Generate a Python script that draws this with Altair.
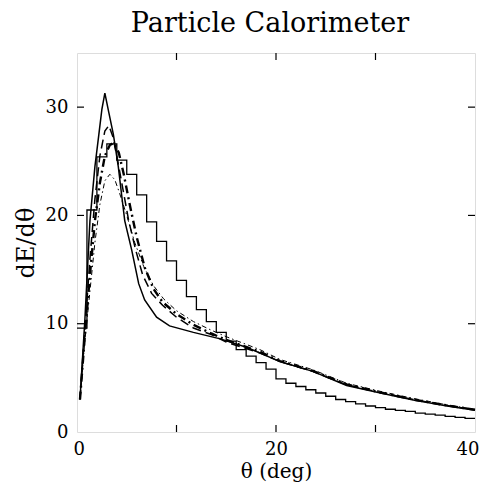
import altair as alt
import pandas as pd

# ---- data ----
hist_edges = list(range(0, 41))
hist_vals = [9.6, 20.5, 25.4, 26.6, 25.1, 23.8, 21.9, 19.4, 17.6, 15.8,
             14.0, 12.5, 11.3, 10.2, 9.2, 8.4, 7.6, 7.0, 6.4, 5.8,
             4.9, 4.5, 4.2, 3.9, 3.6, 3.3, 3.0, 2.8, 2.6, 2.4,
             2.25, 2.1, 2.0, 1.9, 1.75, 1.65, 1.55, 1.45, 1.35, 1.25]

solid_t = [0.3, 0.8, 1.3, 1.8, 2.2, 2.5, 2.8, 3.2, 3.65, 4.15, 4.55, 4.8, 5.5, 6.2, 6.8, 8.0, 9.3, 11.7,
           14.4, 17.1, 20.4, 23.7, 27.1, 30.5, 33.8, 37.2, 40.0]
solid_v = [3.0, 10.5, 19.5, 24.5, 27.5, 29.8, 31.3, 29.5, 27.5, 24.5, 21.4, 19.5, 16.8, 13.7, 12.2, 10.6, 9.8, 9.2,
           8.6, 7.8, 6.5, 5.6, 4.3, 3.6, 2.95, 2.4, 2.0]

dash_t = [0.3, 0.8, 1.3, 1.8, 2.3, 2.8, 3.2, 3.6, 4.1, 4.6, 5.2, 5.9, 6.6, 7.5, 8.6, 10.0, 11.7, 13.5, 15.0,
          18.4, 20.4, 23.7, 27.1, 30.5, 33.8, 37.2, 40.0]
dash_v = [3.0, 9.5, 16.0, 21.5, 25.5, 27.8, 28.3, 27.3, 25.0, 22.5, 19.5, 16.8, 14.5, 12.8, 11.7, 10.6, 9.6, 9.0, 8.3,
          7.3, 6.5, 5.6, 4.35, 3.65, 3.0, 2.45, 2.05]

heavy_t = [0.3, 0.8, 1.3, 1.8, 2.3, 2.8, 3.3, 3.7, 4.2, 4.7, 5.3, 6.0, 6.8, 7.7, 8.6, 10.0, 11.7, 13.5, 15.0,
           18.4, 20.4, 23.7, 27.1, 30.5, 33.8, 37.2, 40.0]
heavy_v = [3.0, 9.0, 14.5, 19.5, 23.0, 25.5, 26.5, 26.7, 25.8, 23.8, 21.0, 18.0, 15.2, 13.2, 12.0, 10.9, 9.9, 9.1, 8.5,
           7.4, 6.55, 5.65, 4.4, 3.65, 3.0, 2.45, 2.05]

dotdash_t = [0.3, 0.8, 1.3, 1.8, 2.3, 2.8, 3.3, 3.8, 4.3, 5.0, 5.8, 6.7, 7.7, 8.7, 10.0, 11.7, 13.5, 15.0,
             18.4, 20.4, 23.7, 27.1, 30.5, 33.8, 37.2, 40.0]
dotdash_v = [3.0, 8.5, 13.0, 17.5, 21.0, 23.2, 23.8, 23.3, 22.0, 20.0, 17.5, 15.3, 13.5, 12.3, 11.2, 10.2, 9.4, 8.8,
             7.6, 6.7, 5.75, 4.5, 3.75, 3.1, 2.5, 2.1]

x_ticks = [0, 10, 20, 30, 40]
y_ticks = [0, 10, 20, 30]

# ---- tables ----
hist_df = pd.DataFrame({"t": hist_edges, "v": hist_vals + [hist_vals[-1]]})
curves = []
for name, ts, vs in [("solid", solid_t, solid_v), ("dash", dash_t, dash_v),
                     ("heavy", heavy_t, heavy_v), ("dotdash", dotdash_t, dotdash_v)]:
    for t, v in zip(ts, vs):
        curves.append({"t": t, "v": v, "s": name})
curve_df = pd.DataFrame(curves)

W, H = 398, 379
FONT = "DejaVu Serif"

xs = alt.Scale(domain=[0, 40], nice=False, zero=False)
ys = alt.Scale(domain=[0, 35], nice=False, zero=False)

xax = alt.Axis(values=x_ticks, labelExpr="datum.value % 20 == 0 ? datum.label : ''",
               ticks=False, grid=False, domain=False, labelPadding=8, labelFontSize=18,
               labelFlush=True, labelFlushOffset=4,
               labelFont=FONT, titleFont=FONT, labelColor="black", titleColor="black",
               title="θ (deg)", titleFontSize=20, titleFontWeight="normal",
               titleBaseline="alphabetic", titleY=45)
yax = alt.Axis(values=y_ticks, ticks=False, grid=False, domain=False, labelPadding=9,
               labelFlush=False,
               labelFont=FONT, titleFont=FONT, labelColor="black", titleColor="black",
               labelFontSize=18, title="dE/dθ", titleFontSize=24, titlePadding=7,
               titleFontWeight="normal")

base_x = alt.X("t:Q", scale=xs, axis=xax)
base_y = alt.Y("v:Q", scale=ys, axis=yax)

hist = alt.Chart(hist_df).mark_line(interpolate="step-after", color="black", strokeWidth=1.3).encode(
    x=base_x, y=base_y)


def curve(name, **kw):
    return alt.Chart(curve_df).transform_filter(alt.datum.s == name).mark_line(
        color="black", **kw).encode(x=alt.X("t:Q", scale=xs), y=alt.Y("v:Q", scale=ys))


c_solid = curve("solid", strokeWidth=1.5)
c_dash = curve("dash", strokeWidth=1.5, strokeDash=[9, 5])
c_heavy = curve("heavy", strokeWidth=2.4, strokeDash=[8, 4, 2, 4])
c_dotdash = curve("dotdash", strokeWidth=1.0, strokeDash=[5, 3, 1.5, 3])

xt_df = pd.DataFrame({"t": x_ticks[1:-1]})
yt_df = pd.DataFrame({"v": y_ticks[1:]})
tick_bottom = alt.Chart(xt_df).mark_rule(color="black", strokeWidth=1.2).encode(
    x=alt.X("t:Q", scale=xs), y=alt.value(H), y2=alt.value(H - 7))
tick_top = alt.Chart(xt_df).mark_rule(color="black", strokeWidth=1.2).encode(
    x=alt.X("t:Q", scale=xs), y=alt.value(0), y2=alt.value(7))
tick_left = alt.Chart(yt_df).mark_rule(color="black", strokeWidth=1.2).encode(
    y=alt.Y("v:Q", scale=ys), x=alt.value(0), x2=alt.value(7))
tick_right = alt.Chart(yt_df).mark_rule(color="black", strokeWidth=1.2).encode(
    y=alt.Y("v:Q", scale=ys), x=alt.value(W), x2=alt.value(W - 7))

chart = alt.layer(hist, c_solid, c_dash, c_heavy, c_dotdash,
                  tick_bottom, tick_top, tick_left, tick_right).properties(
    width=W, height=H,
    title=alt.TitleParams("Particle Calorimeter", fontSize=27, font=FONT, fontWeight="normal",
                          anchor="middle", offset=14, dx=-6, color="black"),
    padding={"left": 69, "top": 45, "right": 5, "bottom": 51},
    autosize="none",
).configure_view(stroke="black", strokeWidth=1.5).configure(background="white")

chart.save("out.html", embed_options={"renderer": "svg", "actions": False})
